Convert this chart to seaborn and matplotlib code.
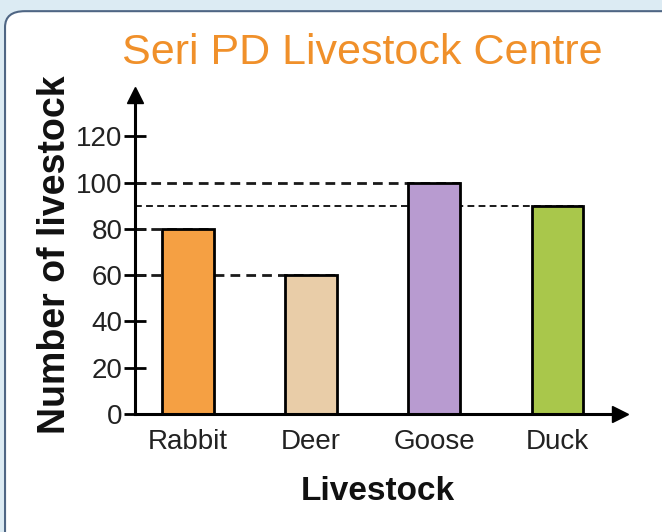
import matplotlib
matplotlib.use("Agg")
import matplotlib.pyplot as plt
from matplotlib.patches import FancyBboxPatch
import pandas as pd
import seaborn as sns

animals = ["Rabbit", "Deer", "Goose", "Duck"]
counts = [80, 60, 100, 90]
bar_colors = ["#F5A043", "#E9CDA8", "#B89BD0", "#A9C74B"]
y_ticks = [0, 20, 40, 60, 80, 100, 120]

df = pd.DataFrame({"Livestock": animals, "Count": counts})

sns.set_style("white")
plt.rcParams["font.family"] = ["Liberation Sans", "DejaVu Sans"]

fig = plt.figure(figsize=(6.62, 5.32), dpi=100)
fig.patch.set_facecolor("#DCEBF3")

# rounded white card behind the chart
card = FancyBboxPatch((0.0076, -0.05), 1.1, 0.979 + 0.05,
                      boxstyle="round,pad=0,rounding_size=0.03",
                      transform=fig.transFigure, facecolor="white",
                      edgecolor="#4F6684", linewidth=1.5, zorder=-10)
fig.patches.append(card)

ax = fig.add_axes([0.204, 0.222, 0.733, 0.6])
ax.set_facecolor("none")

x_left, x_right = -0.43, 3.51
y_top = 138

# dashed guide lines from the y axis to each bar top
for i, v in enumerate(counts):
    ax.hlines(v, x_left, i + 0.21, colors="#1a1a1a", linestyles=(0, (3.5, 2.2)),
              linewidth=2.0 if v != 90 else 1.4, zorder=1)

sns.barplot(data=df, x="Livestock", y="Count", hue="Livestock",
            palette=bar_colors, width=0.42, edgecolor="black",
            linewidth=2, legend=False, saturation=1, ax=ax, zorder=2)

ax.set_xlim(x_left, x_right)
ax.set_ylim(0, y_top)
ax.set_yticks(y_ticks)
ax.set_yticklabels([str(t) for t in y_ticks], fontsize=20, color="#222222")
ax.tick_params(axis="y", left=True, direction="inout", length=16, width=2,
               color="black", pad=1)
ax.tick_params(axis="x", length=0, labelsize=20, labelcolor="#222222", pad=11)

for s in ["top", "right"]:
    ax.spines[s].set_visible(False)
for s in ["left", "bottom"]:
    ax.spines[s].set_linewidth(2.2)
    ax.spines[s].set_color("black")

# axis arrows
ax.plot(0, 1, marker="^", color="black", markersize=11, transform=ax.transAxes, clip_on=False)
ax.plot(1, 0, marker=">", color="black", markersize=11, transform=ax.transAxes, clip_on=False)

ax.set_xlabel("Livestock", fontsize=24, fontweight="bold", labelpad=15, color="#111111")
ax.set_ylabel("Number of livestock", fontsize=27, fontweight="bold", labelpad=2, color="#111111")

fig.text(0.548, 0.9, "Seri PD Livestock Centre", color="#F0902A",
         fontsize=31, ha="center", va="center")

fig.savefig("out.png", dpi=100, facecolor=fig.get_facecolor())
